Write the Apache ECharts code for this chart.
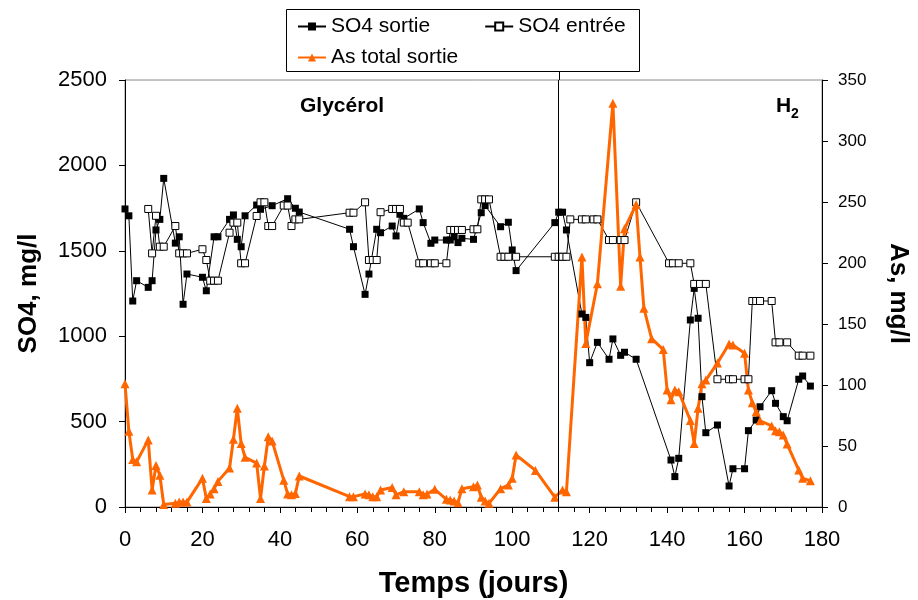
<!DOCTYPE html>
<html><head><meta charset="utf-8">
<script src="https://cdn.jsdelivr.net/npm/echarts@6/dist/echarts.min.js"></script>
<style>html,body{margin:0;padding:0;background:#fff}#c{width:918px;height:600px}</style>
</head><body><div id="c"></div>
<script>
const so4SortieDays = [0,1,2,3,6,7,8,9,10,13,14,15,16,20,21,23,24,27,28,29,30,31,34,35,38,42,44,45,58,59,62,63,65,66,69,70,71,72,76,77,79,80,83,84,85,86,87,90,92,93,97,99,100,101,111,112,113,114,118,119,120,122,125,126,128,129,132,141,142,143,146,147,148,149,150,153,156,157,160,161,163,164,167,168,170,171,174,175,177];
const so4SortieVals = [1745,1705,1206,1325,1286,1325,1622,1684,1924,1545,1582,1187,1364,1345,1266,1582,1582,1684,1710,1567,1524,1705,1768,1743,1764,1805,1749,1727,1626,1524,1245,1364,1626,1606,1645,1587,1714,1690,1745,1665,1544,1563,1563,1563,1582,1548,1573,1567,1723,1765,1641,1667,1505,1384,1665,1726,1726,1622,1130,1110,845,964,865,984,888,906,865,275,178,285,1095,1280,1105,646,435,480,123,224,224,447,509,587,681,607,529,505,748,767,708];

const so4EntreeDays = [6,7,8,9,10,13,14,15,16,20,21,22,23,24,27,28,29,30,31,34,35,36,37,38,41,42,43,44,45,58,59,62,63,64,65,66,69,70,71,72,73,76,77,79,80,83,84,85,86,87,90,91,92,93,94,97,98,99,101,111,112,113,114,115,118,119,121,122,125,126,128,129,132,140.5,141.5,143,146,147,148.5,150,153,156,157,160,161,162,163,164,167,168,169,171,174,175,177];
const so4EntreeVals = [1745,1485,1705,1524,1524,1645,1485,1485,1485,1509,1446,1325,1325,1325,1606,1665,1665,1427,1427,1704,1784,1784,1645,1645,1765,1765,1645,1684,1684,1723,1723,1784,1446,1446,1446,1726,1745,1745,1745,1665,1665,1427,1427,1427,1427,1427,1622,1622,1622,1622,1626,1626,1801,1801,1801,1465,1465,1465,1465,1465,1465,1465,1465,1684,1684,1684,1684,1684,1563,1563,1563,1563,1784,1427,1427,1427,1427,1306,1306,1306,748,748,748,748,748,1206,1206,1206,1206,964,964,964,886,886,886];

const asDays = [0,1,2,3,6,7,8,9,10,13,14,15,16,20,21,22,23,24,27,28,29,30,31,34,35,36,37,38,41,42,43,44,45,58,59,62,63,64,65,66,69,70,72,76,77,78,80,83,84,85,86,87,90,91,92,93,94,97,99,100,101,106,111,113,114,118,119,122,126,128,129,132,133,134,136,139,140,141,142,143,146,147,148,149,150,153,156,157,160,161,162,163,164,167,168,169,170,171,174,175,177];
const asVals = [101,62,39,37,55,14,34,26,2,3,4,4,4,23.5,7,10.7,15,21,32,55.5,81,52,40.7,36,7,33.6,57.6,54,22,10.7,10,11,25.4,8.5,8.5,10.7,10,8.5,8.5,14,16,10,12.5,12.5,10,10.7,14.5,6.3,5.7,5,3.5,15,16.6,18,8,5,3,15,18,23.5,42.6,30,8,14,12.5,205,134,183,331,181,228,248,205,163,138,129,96,88,96,94.5,71,52,81,101,104,118,133.6,132.8,126,96,85.5,78,70.7,66.4,62.5,61.7,59,51.6,30.3,23.5,21.6];

const xTicks = {min:0, max:180, interval:20};
const leftTicks = {min:0, max:2500, interval:500};
const rightTicks = {min:0, max:350, interval:50};
const phaseChangeDay = 112;
const phaseLabels = ['Glycérol', 'H', '2'];

const zip = (a, b) => a.map((d, i) => [d, b[i]]);
const F = '"Liberation Sans", Arial, sans-serif';
const ORANGE = '#FF6600';
const plain = v => String(v);

const chart = echarts.init(document.getElementById('c'), null, {renderer: 'canvas'});
const axisCommon = {
  axisLine: {show: true, onZero: false, lineStyle: {color: '#000', width: 1}},
  axisTick: {show: true, inside: false, length: 6, lineStyle: {color: '#000'}},
  splitLine: {show: false}
};
const legendBox = {x: 286.5, y: 9.5, width: 353, height: 62};
chart.setOption({
  animation: false,
  backgroundColor: '#fff',
  textStyle: {fontFamily: F},
  grid: {left: 125, right: 96, top: 80, bottom: 93, show: true, borderColor: '#888', borderWidth: 1, outerBoundsMode: 'none'},
  legend: [
    {data: ['SO4 sortie', 'SO4 entrée'], left: 297, top: 16, padding: 0, itemWidth: 28, itemHeight: 10, itemGap: 54, selectedMode: false,
     textStyle: {fontSize: 21, color: '#000', fontFamily: F}},
    {data: ['As total sortie'], left: 297, top: 47, padding: 0, itemWidth: 28, itemHeight: 10, selectedMode: false,
     textStyle: {fontSize: 21, color: '#000', fontFamily: F}}
  ],
  xAxis: Object.assign({}, axisCommon, {
    type: 'value', min: xTicks.min, max: xTicks.max, interval: xTicks.interval,
    minorTick: {show: true, splitNumber: 5, length: 5, lineStyle: {color: '#000'}},
    axisLabel: {fontSize: 22, color: '#000', margin: 22, fontFamily: F, formatter: plain},
    name: 'Temps (jours)', nameLocation: 'middle', nameGap: 62,
    nameTextStyle: {fontSize: 29, fontWeight: 'bold', color: '#000', fontFamily: F}
  }),
  yAxis: [
    Object.assign({}, axisCommon, {
      type: 'value', position: 'left', min: leftTicks.min, max: leftTicks.max, interval: leftTicks.interval,
      axisLabel: {fontSize: 22, color: '#000', margin: 18, fontFamily: F, formatter: plain},
      name: 'SO4, mg/l', nameLocation: 'middle', nameRotate: 90, nameGap: 83, nameMoveOverlap: false,
      nameTextStyle: {fontSize: 26, fontWeight: 'bold', color: '#000', fontFamily: F}
    }),
    Object.assign({}, axisCommon, {
      type: 'value', position: 'right', min: rightTicks.min, max: rightTicks.max, interval: rightTicks.interval,
      axisLabel: {fontSize: 17, color: '#000', margin: 16, fontFamily: F, formatter: plain},
      name: 'As, mg/l', nameLocation: 'middle', nameRotate: -90, nameGap: 63, nameMoveOverlap: false,
      nameTextStyle: {fontSize: 26, fontWeight: 'bold', color: '#000', fontFamily: F}
    })
  ],
  series: [
    {name: 'SO4 sortie', type: 'line', data: zip(so4SortieDays, so4SortieVals),
     symbol: 'rect', symbolSize: 7, itemStyle: {color: '#000'}, lineStyle: {color: '#000', width: 1},
     emphasis: {disabled: true},
     markLine: {silent: true, symbol: 'none', label: {show: false}, lineStyle: {color: '#000', width: 1, type: 'solid'},
       emphasis: {disabled: true}, data: [{xAxis: phaseChangeDay}]}},
    {name: 'SO4 entrée', type: 'line', data: zip(so4EntreeDays, so4EntreeVals),
     symbol: 'rect', symbolSize: 7, itemStyle: {color: '#fff', borderColor: '#000', borderWidth: 1}, lineStyle: {color: '#000', width: 1},
     emphasis: {disabled: true}},
    {name: 'As total sortie', type: 'line', yAxisIndex: 1, data: zip(asDays, asVals),
     symbol: 'triangle', symbolSize: 9, itemStyle: {color: ORANGE}, lineStyle: {color: ORANGE, width: 3},
     emphasis: {disabled: true}}
  ],
  graphic: [
    {id: 'box', type: 'rect', shape: legendBox, style: {fill: 'none', stroke: '#000', lineWidth: 1}, silent: true},
    {id: 't1', type: 'text', x: 300, y: 106, style: {text: phaseLabels[0], fill: '#000', font: 'bold 21px "Liberation Sans", Arial', verticalAlign: 'middle'}},
    {id: 't2', type: 'text', x: 776, y: 106, style: {text: phaseLabels[1], fill: '#000', font: 'bold 21px "Liberation Sans", Arial', verticalAlign: 'middle'}},
    {id: 't3', type: 'text', x: 791, y: 114, style: {text: phaseLabels[2], fill: '#000', font: 'bold 14px "Liberation Sans", Arial', verticalAlign: 'middle'}}
  ]
});
// connect the phase-change line to the legend box (above the plot area)
const px = Math.round(chart.convertToPixel({xAxisIndex: 0}, phaseChangeDay)) + 0.5;
const topPx = chart.convertToPixel({yAxisIndex: 0}, leftTicks.max);
chart.setOption({graphic: [{id: 'link', type: 'line', silent: true,
  shape: {x1: px, y1: legendBox.y + legendBox.height, x2: px, y2: topPx},
  style: {stroke: '#000', lineWidth: 1}}]});
</script></body></html>
